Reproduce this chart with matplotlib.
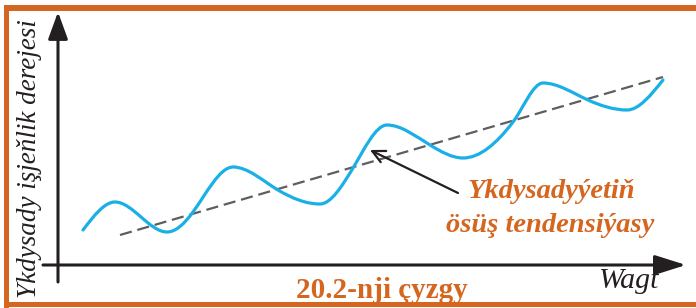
import numpy as np
import matplotlib
matplotlib.use('Agg')
import matplotlib.pyplot as plt
from matplotlib.path import Path
from matplotlib.patches import PathPatch, Rectangle

# ---- data (origin = crossing of the two axes) ----
curve_x = [25, 57, 109, 135, 175, 220, 262, 295, 329, 372, 405, 455, 485, 530, 569, 605]
curve_y = [35, 63, 33, 53, 98, 75, 61, 97, 140, 120, 107, 143, 182, 165, 155, 185]
trend_x = [62, 605]
trend_y = [30, 188]

x_label = "Wagt"
y_label = "Ykdysady işjeňlik derejesi"
note_lines = ["Ykdysadyýetiň", "ösüş tendensiýasy"]
caption = "20.2-nji çyzgy"

ORANGE = '#D5661F'
BLUE = '#1AB0E6'
DARK = '#231F20'
GREY = '#5E5E5E'

W, H = 696, 308
fig = plt.figure(figsize=(W / 100, H / 100), dpi=100)
fig.patch.set_facecolor('white')
ax = fig.add_axes([0, 0, 1, 1])
ax.set_xlim(-58, W - 58)
ax.set_ylim(-(H - 265), 265)
ax.axis('off')

def fx(px):
    return px / W

def fy(py):
    return 1 - py / H

# ---- orange frame ----
for (x0, y0, w, h) in [(4, 5, W - 4, 6), (4, 5, 5, H - 5), (4, 302, W - 4, 5)]:
    fig.add_artist(Rectangle((fx(x0), fy(y0 + h)), w / W, h / H,
                             transform=fig.transFigure, color=ORANGE, lw=0, zorder=0))

# ---- axes arrows ----
ax.annotate('', xy=(628, 0), xytext=(-15, 0),
            arrowprops=dict(arrowstyle='-|>,head_length=1.9,head_width=0.6',
                            mutation_scale=10, lw=2.2, color=DARK,
                            shrinkA=0, shrinkB=0))
ax.annotate('', xy=(0, 253), xytext=(0, -17),
            arrowprops=dict(arrowstyle='-|>,head_length=1.65,head_width=0.6',
                            mutation_scale=10, lw=2.2, color=DARK,
                            shrinkA=0, shrinkB=0))

# ---- trend line ----
ax.plot(trend_x, trend_y, color=GREY, lw=1.6, dashes=(5.5, 2.6), zorder=3)

# ---- smooth curve (cubic Hermite as Bezier segments) ----
xs = np.array(curve_x, float)
ys = np.array(curve_y, float)
n = len(xs)
m = np.zeros(n)
for i in range(1, n - 1):
    if (ys[i] - ys[i - 1]) * (ys[i + 1] - ys[i]) < 0:
        m[i] = 0.0
    else:
        m[i] = 1.4 * (ys[i + 1] - ys[i - 1]) / (xs[i + 1] - xs[i - 1])
m[0] = 1.5 * (ys[1] - ys[0]) / (xs[1] - xs[0])
m[-1] = 1.5 * (ys[-1] - ys[-2]) / (xs[-1] - xs[-2])
verts = [(xs[0], ys[0])]
codes = [Path.MOVETO]
for i in range(n - 1):
    dx = xs[i + 1] - xs[i]
    verts += [(xs[i] + dx / 3, ys[i] + m[i] * dx / 3),
              (xs[i + 1] - dx / 3, ys[i + 1] - m[i + 1] * dx / 3),
              (xs[i + 1], ys[i + 1])]
    codes += [Path.CURVE4] * 3
ax.add_patch(PathPatch(Path(verts, codes), fill=False, edgecolor=BLUE, lw=2.3,
                       capstyle='round', zorder=4))

# ---- pointer arrow ----
ax.annotate('', xy=(312, 115), xytext=(400, 72),
            arrowprops=dict(arrowstyle='->,head_length=0.9,head_width=0.45',
                            mutation_scale=10, lw=1.6, color=DARK,
                            shrinkA=0, shrinkB=0), zorder=5)

# ---- texts ----
serif = 'Liberation Serif'
fig.text(fx(551), fy(192), note_lines[0], color=ORANGE, fontsize=20.5, family=serif,
         weight='bold', style='italic', ha='center', va='center')
fig.text(fx(550), fy(226), note_lines[1], color=ORANGE, fontsize=20.5, family=serif,
         weight='bold', style='italic', ha='center', va='center')
fig.text(fx(382), fy(290), caption, color=ORANGE, fontsize=21, family=serif,
         weight='bold', ha='center', va='center')
fig.text(fx(628), fy(281), x_label, color=DARK, fontsize=21.5, family=serif,
         style='italic', ha='center', va='center')
fig.text(fx(30), fy(159), y_label, color=DARK, fontsize=19.5, family=serif,
         style='italic', ha='center', va='center', rotation=90)

fig.savefig('out.png', dpi=100, facecolor='white')
